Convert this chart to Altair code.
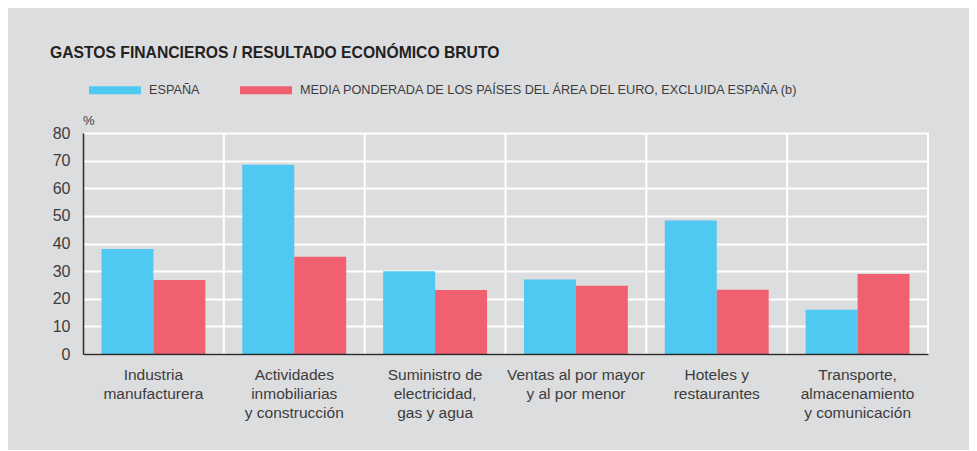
import altair as alt
import pandas as pd

categories = [
    "Industria\nmanufacturera",
    "Actividades\ninmobiliarias\ny construcción",
    "Suministro de\nelectricidad,\ngas y agua",
    "Ventas al por mayor\ny al por menor",
    "Hoteles y\nrestaurantes",
    "Transporte,\nalmacenamiento\ny comunicación",
]
series_names = [
    "ESPAÑA",
    "MEDIA PONDERADA DE LOS PAÍSES DEL ÁREA DEL EURO, EXCLUIDA ESPAÑA (b)",
]
espana = [38.0, 68.5, 30.0, 27.0, 48.3, 16.0]
media = [26.8, 35.2, 23.2, 24.7, 23.3, 29.0]
y_ticks = [0, 10, 20, 30, 40, 50, 60, 70, 80]
title_text = "GASTOS FINANCIEROS / RESULTADO ECONÓMICO BRUTO"
unit_text = "%"
colors = ["#4FC8F2", "#F06071"]

rows = []
for c, a, b in zip(categories, espana, media):
    rows.append({"cat": c, "serie": series_names[0], "valor": a})
    rows.append({"cat": c, "serie": series_names[1], "valor": b})
df = pd.DataFrame(rows)
cat_df = pd.DataFrame({"cat": categories})

FONT = "Liberation Sans"
TXT = "#3c3c3c"

x_enc = alt.X(
    "cat:N",
    sort=categories,
    scale=alt.Scale(paddingInner=0, paddingOuter=0),
    axis=alt.Axis(
        title=None,
        labelAngle=0,
        labelAlign="center",
        ticks=False,
        domainColor="#2a2a2a",
        domainWidth=1.5,
        labelFontSize=15.5,
        labelFont=FONT,
        labelColor=TXT,
        labelPadding=13,
        labelLineHeight=19,
        labelBaseline="top",
        labelLimit=0,
        labelExpr="split(datum.label, '\\n')",
        zindex=1,
    ),
)

bars = alt.Chart(df).mark_bar().encode(
    x=x_enc,
    xOffset=alt.XOffset(
        "serie:N",
        sort=series_names,
        scale=alt.Scale(paddingInner=0, paddingOuter=0.356),
    ),
    y=alt.Y(
        "valor:Q",
        scale=alt.Scale(domain=[0, 80], nice=False),
        axis=alt.Axis(
            title=None,
            values=y_ticks,
            ticks=False,
            domainColor="#2a2a2a",
            domainWidth=1.5,
            gridColor="white",
            gridWidth=2,
            labelFontSize=16,
            labelFont=FONT,
            labelColor=TXT,
            labelPadding=13,
        ),
    ),
    color=alt.Color(
        "serie:N",
        sort=series_names,
        scale=alt.Scale(domain=series_names, range=colors),
        legend=alt.Legend(
            title=None,
            orient="none",
            legendX=6,
            legendY=-69,
            direction="horizontal",
            symbolType="M-1,-0.154L1,-0.154L1,0.154L-1,0.154Z",
            symbolSize=2704,
            symbolStrokeWidth=0,
            labelOffset=8,
            columnPadding=40,
            labelFontSize=12.7,
            labelFont=FONT,
            labelColor=TXT,
            labelLimit=0,
        ),
    ),
)

seps = alt.Chart(cat_df).mark_rule(color="white", strokeWidth=2).encode(
    x=alt.X("cat:N", sort=categories, bandPosition=1),
)

title = alt.Chart(pd.DataFrame({"t": [title_text]})).mark_text(
    align="left", baseline="alphabetic", font=FONT, fontSize=15.7, fontWeight="bold", color="#222"
).encode(x=alt.value(-33), y=alt.value(-75), text="t:N")

unit = alt.Chart(pd.DataFrame({"t": [unit_text]})).mark_text(
    align="left", baseline="alphabetic", font=FONT, fontSize=13, color=TXT
).encode(x=alt.value(0), y=alt.value(-8), text="t:N")

chart = (
    alt.layer(seps, bars, title, unit)
    .properties(
        width=845,
        height=221,
        autosize=alt.AutoSizeParams(type="none"),
        padding={"left": 75, "top": 125, "right": 41, "bottom": 96},
        background="#DCDDDF",
    )
    .configure_view(stroke=None)
)

chart.save("out.html", embed_options={"renderer": "svg", "actions": False})
